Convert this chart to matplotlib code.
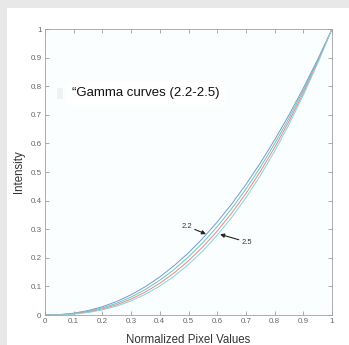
import matplotlib
matplotlib.use("Agg")
import matplotlib.pyplot as plt
from matplotlib.patches import Rectangle

plt.rcParams["font.family"] = ["Liberation Sans", "DejaVu Sans"]

# normalized pixel values (sample positions)
x = [0.00, 0.05, 0.10, 0.15, 0.20, 0.25, 0.30, 0.35, 0.40, 0.45, 0.50,
     0.55, 0.60, 0.65, 0.70, 0.75, 0.80, 0.85, 0.90, 0.95, 1.00]

# intensity
y_22 = [0.0, 0.0014, 0.0063, 0.0154, 0.0290, 0.0474, 0.0707, 0.0993, 0.1332, 0.1726, 0.2176,
        0.2684, 0.3250, 0.3876, 0.4563, 0.5311, 0.6121, 0.6994, 0.7931, 0.8933, 1.0]
y_23 = [0.0, 0.0010, 0.0050, 0.0127, 0.0247, 0.0412, 0.0627, 0.0894, 0.1215, 0.1594, 0.2031,
        0.2529, 0.3089, 0.3713, 0.4403, 0.5160, 0.5986, 0.6881, 0.7848, 0.8887, 1.0]
y_24 = [0.0, 0.0008, 0.0040, 0.0105, 0.0210, 0.0359, 0.0556, 0.0805, 0.1109, 0.1471, 0.1895,
        0.2382, 0.2935, 0.3556, 0.4248, 0.5013, 0.5854, 0.6771, 0.7766, 0.8842, 1.0]
y_25 = [0.0, 0.0006, 0.0032, 0.0087, 0.0179, 0.0313, 0.0493, 0.0725, 0.1012, 0.1358, 0.1768,
        0.2243, 0.2789, 0.3406, 0.4100, 0.4871, 0.5724, 0.6661, 0.7684, 0.8797, 1.0]

curves = [y_22, y_23, y_24, y_25]
colors = ["#6f9ad8", "#70c2b4", "#e08a8a", "#86d3da"]

ticks = [0, 0.1, 0.2, 0.3, 0.4, 0.5, 0.6, 0.7, 0.8, 0.9, 1]
tick_labels = ["0", "0.1", "0.2", "0.3", "0.4", "0.5", "0.6", "0.7", "0.8", "0.9", "1"]

fig = plt.figure(figsize=(3.49, 3.45), dpi=100)
fig.patch.set_facecolor("#e8e8e8")
# white panel behind the plot
fig.patches.append(Rectangle((7 / 349, 0), 1, 1 - 8 / 345, transform=fig.transFigure,
                             facecolor="white", edgecolor="none", zorder=-1))

ax = fig.add_axes([45 / 349, 30 / 345, 287 / 349, 286 / 345])
ax.set_facecolor("#fbfefe")

for ys, c in zip(curves, colors):
    ax.plot(x, ys, color=c, linewidth=0.7)

ax.set_xlim(0, 1)
ax.set_ylim(0, 1)
ax.set_xticks(ticks)
ax.set_xticklabels(tick_labels)
ax.set_yticks(ticks)
ax.set_yticklabels(tick_labels)
ax.tick_params(direction="in", length=3, width=0.5, labelsize=5.8, colors="#888888",
               labelcolor="#666666", top=True, right=True, pad=2.5)
for s in ax.spines.values():
    s.set_color("#a0a0a0")
    s.set_linewidth(0.6)

ax.set_xlabel("Normalized Pixel Values", fontsize=8.3, color="#333333", labelpad=6)
ax.set_ylabel("Intensity", fontsize=8.3, color="#333333", labelpad=4)

# faint marker left of the legend text
ax.add_patch(Rectangle((0.042, 0.755), 0.02, 0.04, facecolor="#f0f2f2", edgecolor="none"))
ax.text(0.095, 0.776, "\u201cGamma curves (2.2-2.5)", fontsize=9.5, color="#111111",
        va="center", ha="left",
        bbox=dict(facecolor="white", edgecolor="none", pad=4))

ax.annotate("2.2", xy=(0.561, 0.283), xytext=(0.475, 0.311), fontsize=5.5, color="#333333",
            va="center", ha="left",
            arrowprops=dict(arrowstyle="-|>", color="#222222", lw=0.8, mutation_scale=6,
                            shrinkA=0, shrinkB=0))
ax.annotate("2.5", xy=(0.61, 0.282), xytext=(0.685, 0.255), fontsize=5.5, color="#333333",
            va="center", ha="left",
            arrowprops=dict(arrowstyle="-|>", color="#222222", lw=0.8, mutation_scale=6,
                            shrinkA=0, shrinkB=0))

fig.savefig("out.png", dpi=100, facecolor=fig.get_facecolor())
